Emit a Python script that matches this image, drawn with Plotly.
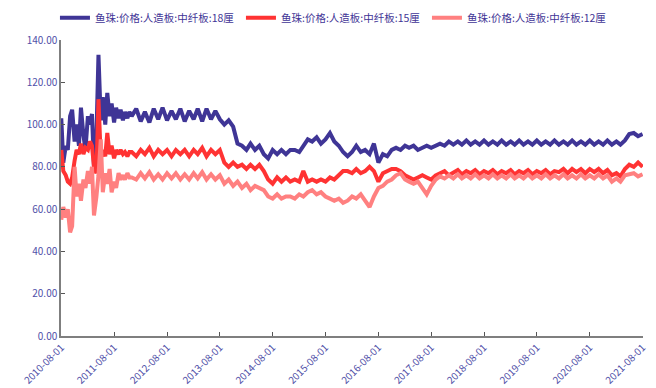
import pandas as pd
import plotly.graph_objects as go

# semi-monthly points for the volatile start, monthly afterwards
early_dates = pd.date_range("2010-08-01", "2011-11-15", freq="SMS")
monthly_dates = pd.date_range("2011-12-01", "2021-08-01", freq="MS")

names = ["鱼珠:价格:人造板:中纤板:18厘", "鱼珠:价格:人造板:中纤板:15厘", "鱼珠:价格:人造板:中纤板:12厘"]
colors = ["#3F3596", "#FF3333", "#FF8080"]

blue_early = [103, 82, 90, 88, 104, 107, 92, 100, 90, 108, 95, 88, 104, 100, 105, 80,
              95, 133, 102, 113, 100, 115, 104, 110, 101, 108, 103, 107, 102, 106, 103, 106]
red_early = [88, 78, 76, 73, 72, 75, 83, 88, 86, 91, 86, 89, 88, 92, 90, 80,
             77, 112, 84, 88, 85, 96, 86, 90, 84, 88, 86, 88, 86, 87, 85, 87]
pink_early = [55, 61, 56, 60, 49, 52, 80, 66, 72, 64, 74, 70, 78, 72, 80, 57,
              66, 76, 93, 68, 77, 72, 79, 68, 73, 70, 77, 74, 76, 74, 77, 75]

blue_monthly = [104,
    107.5, 101.5, 106, 101, 107.5, 102.5, 108, 102, 106.5, 102.5, 107.5, 101.5,
    106.5, 102.5, 107.5, 101.5, 107.5, 102.5, 106.5, 102.5, 100, 102, 99, 91,
    90, 88, 91, 88, 90, 86, 84, 88, 86, 88, 86, 88,
    88, 87, 90, 93, 92, 94, 91, 93, 96, 92, 90, 87,
    85, 87, 90, 87, 88, 86, 91, 82, 86, 85, 88, 89,
    88, 90, 89, 90, 88, 89, 90, 89, 90, 91, 90, 92,
    90.5, 92, 90.5, 92.5, 90.5, 92, 90.5, 92.5, 90.5, 92, 90.5, 92.5,
    90.5, 92, 90.5, 92.5, 90.5, 92, 90.5, 92.5, 90.5, 92, 90.5, 92.5,
    90.5, 92, 90.5, 92.5, 90.5, 92, 90.5, 92.5, 90.5, 92, 90.5, 92.5,
    90.5, 92, 90.5, 92.5, 95.5, 96, 94.5, 95.5]
red_monthly = [87,
    85, 88, 86, 89, 85, 88, 86, 88, 85, 88, 86, 88,
    85, 88, 86, 89, 85, 88, 86, 88, 82, 80, 82, 80,
    81, 79, 81, 79, 81, 78, 74, 72, 75, 73, 75, 73,
    74, 73, 78, 73, 74, 73, 74, 73, 75, 74, 76, 78,
    78, 77, 79, 77, 78, 80, 78, 73, 77, 78, 79, 79,
    78, 76, 75, 74, 75, 76, 75, 74, 76, 77, 78, 76,
    77, 78.5, 76.5, 78, 77, 78.5, 76.5, 78, 77, 78.5, 76.5, 78,
    77, 78.5, 76.5, 78, 77, 78.5, 76.5, 78, 77, 78.5, 76.5, 78,
    77.5, 79, 77, 79, 77.5, 79, 77, 79, 77.5, 79, 77, 78.5,
    76, 77, 75.5, 79, 81, 80, 82, 80]
pink_monthly = [75,
    74, 77, 74.5, 77.5, 74, 76.5, 74, 77, 74.5, 77, 74, 76.5,
    74, 77, 74.5, 77.5, 74, 76.5, 74, 76, 72, 74, 71, 73,
    70, 72, 69, 71, 70, 69, 66, 65, 67, 65, 66, 66,
    65, 67, 66, 68, 69, 67, 68, 66, 65, 64, 65, 63,
    64, 66, 65, 67, 64, 61, 66, 70, 71, 73, 74, 76,
    77, 74, 73, 72, 73, 70, 67, 71, 74, 75.5, 74.5, 76,
    74.5, 76.5, 74.5, 76, 74.5, 76.5, 74.5, 76, 74.5, 76.5, 74.5, 76,
    74.5, 76.5, 74.5, 76, 74.5, 76.5, 74.5, 76, 74.5, 76.5, 74.5, 76,
    74.5, 76.5, 74.5, 76, 74.5, 76.5, 74.5, 76, 74.5, 76.5, 74.5, 76,
    73, 74.5, 73, 76, 76.5, 77, 75.5, 76.5]

dates = list(early_dates) + list(monthly_dates)
series = [blue_early + blue_monthly, red_early + red_monthly, pink_early + pink_monthly]

fig = go.Figure()
for name, color, values in zip(names, colors, series):
    fig.add_trace(go.Scatter(x=dates, y=values, mode="lines", name=name,
                             line=dict(color=color, width=4)))

# the page body adds an 8px margin, so the figure is 8px smaller on each axis
tick_color = "#5050A8"
fig.update_layout(
    width=648, height=380,
    margin=dict(l=53, r=13, t=32, b=52, autoexpand=False),
    plot_bgcolor="white", paper_bgcolor="white",
    font=dict(family="Noto Sans CJK SC", size=10, color=tick_color),
    legend=dict(orientation="h", x=0.469, xanchor="center", y=1.075, yanchor="middle",
                font=dict(size=10.5, color="#3F3596"), entrywidth=141,
                bgcolor="rgba(0,0,0,0)"),
    xaxis=dict(type="date", range=["2010-07-30", "2021-08-04"],
               tick0="2010-08-01", dtick="M12", tickformat="%Y-%m-%d",
               tickangle=-45, ticks="inside", ticklen=4, tickcolor="#555",
               showline=True, linecolor="#7f7f7f", linewidth=1.5, automargin=False,
               showgrid=False, zeroline=False, tickfont=dict(size=10, color=tick_color)),
    yaxis=dict(range=[0, 140], dtick=20, tickformat=".2f",
               ticks="inside", ticklen=4, tickcolor="#555", automargin=False,
               showline=True, linecolor="#7f7f7f", linewidth=1.5,
               showgrid=False, zeroline=False, tickfont=dict(size=10, color=tick_color)),
)

fig.write_html("out.html")
